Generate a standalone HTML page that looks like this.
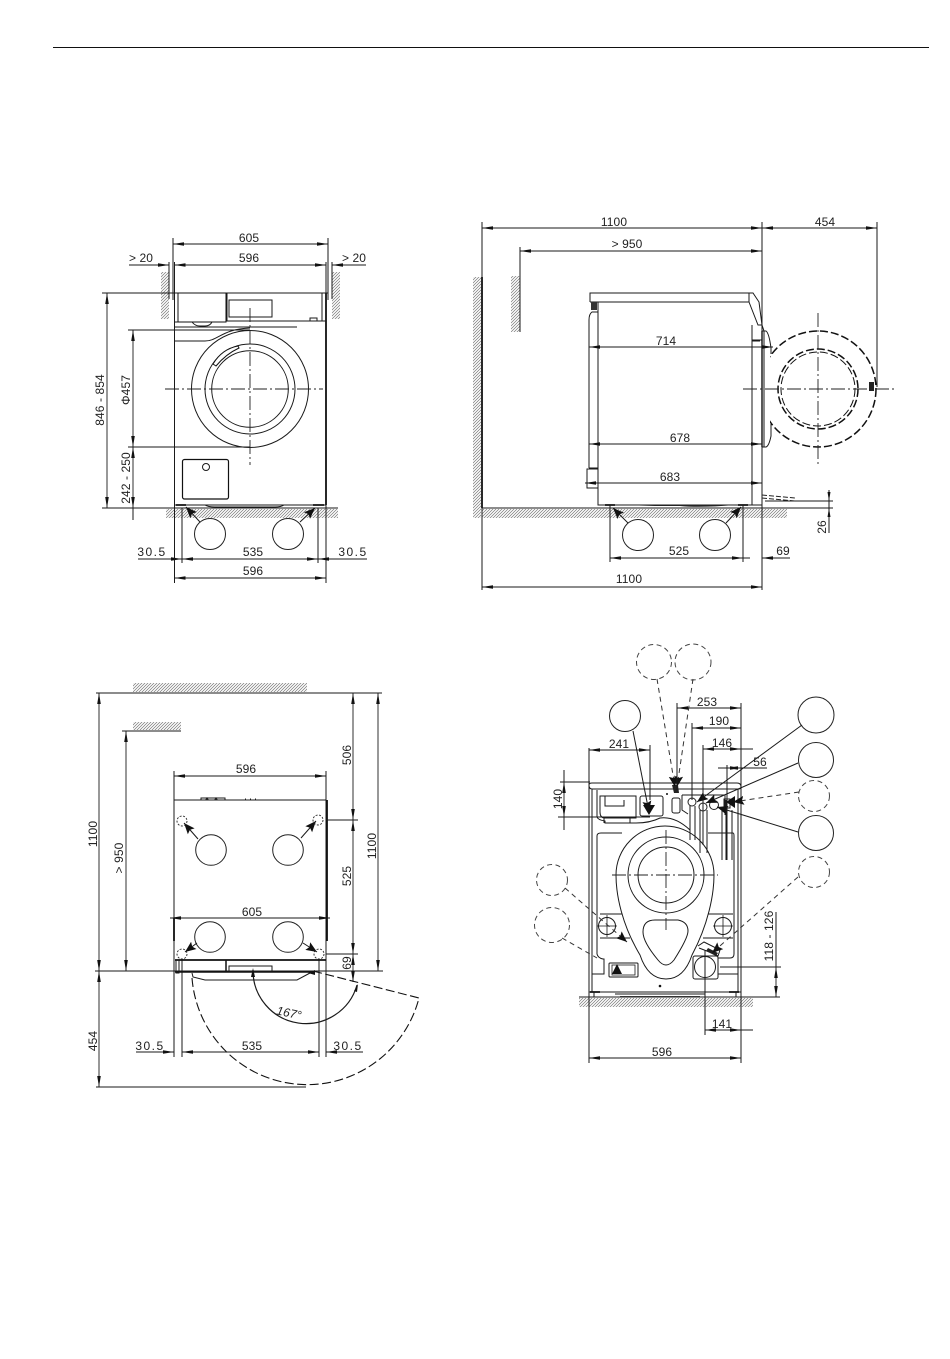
<!DOCTYPE html>
<html><head><meta charset="utf-8"><title>Installation dimensions</title>
<style>
html,body{margin:0;padding:0;background:#fff}
svg{display:block}
text{font-family:"Liberation Sans",sans-serif;font-size:12px;fill:#222;text-anchor:middle;dominant-baseline:central;letter-spacing:.1px}
.w{letter-spacing:1.5px}
.l{fill:none;stroke:#1a1a1a;stroke-width:1}
.t{fill:none;stroke:#1a1a1a;stroke-width:.8}
.b{fill:none;stroke:#111;stroke-width:1.8}
.d{fill:none;stroke:#1a1a1a;stroke-width:.9;marker-start:url(#a);marker-end:url(#a)}
.e{fill:none;stroke:#1a1a1a;stroke-width:.9;marker-end:url(#a)}
.p{fill:none;stroke:#1a1a1a;stroke-width:1;marker-end:url(#h)}
.q{fill:none;stroke:#333;stroke-width:1;stroke-dasharray:5 4;marker-end:url(#h)}
.n{fill:none;stroke:#333;stroke-width:1;stroke-dasharray:5 4}
.c{fill:none;stroke:#222;stroke-width:.9;stroke-dasharray:14 3 2 3}
.s{fill:#fff;stroke:#222;stroke-width:1}
.k{fill:#fff;stroke:#444;stroke-width:1;stroke-dasharray:5 3.5}
.dd{fill:none;stroke:#111;stroke-width:1.5;stroke-dasharray:8 3}
</style></head><body>
<svg width="950" height="1359" viewBox="0 0 950 1359" xmlns="http://www.w3.org/2000/svg">
<defs>
<marker id="a" markerUnits="userSpaceOnUse" markerWidth="13" markerHeight="7" refX="11" refY="3.5" orient="auto-start-reverse"><path d="M11,3.5 L0,1.7 L0,5.300 z" fill="#111"/></marker>
<marker id="h" markerUnits="userSpaceOnUse" markerWidth="13" markerHeight="10" refX="11" refY="5" orient="auto"><path d="M11,5 L0,0.5 L2,5 L0,9.5 z" fill="#111"/></marker>
<pattern id="x" width="3" height="3" patternUnits="userSpaceOnUse"><path d="M-1,1 L1,-1 M0,3 L3,0 M2,4 L4,2" stroke="#777" stroke-width=".7"/></pattern>
<clipPath id="cr"><rect x="770" y="320" width="120" height="140"/></clipPath>
</defs>
<line x1="53" y1="47.5" x2="929" y2="47.5" stroke="#111" stroke-width="1"/>

<!-- VIEW 1 FRONT -->
<rect x="161" y="272" width="8" height="47" fill="url(#x)"/><rect x="332" y="272" width="8" height="47" fill="url(#x)"/>
<rect x="166" y="509" width="172" height="9" fill="url(#x)"/>
<path class="l" d="M173 238V300M328 238V300M169 262V299M332 262V299M174.500 262V505M326 262V505"/>
<path class="b" d="M326 293V505"/>
<path class="l" d="M102 293H328M102 508H338"/>
<path class="l" d="M178 293V322H226V293M227 293V321H322V293M175 322H178M322 321H326M175 327H297"/>
<rect class="b" x="178" y="293" width="48" height="29" style="stroke-width:1"/>
<rect class="l" x="229" y="300" width="43" height="17"/>
<rect class="l" x="310" y="318" width="7" height="3"/>
<path class="l" d="M192 322q3 4 8 4h5q5 0 7-4"/>
<path class="l" d="M175 341H205C218 341 222 329 250 328"/>
<circle class="l" cx="250" cy="389" r="58.500"/><circle class="l" cx="250" cy="389" r="45"/><circle class="l" cx="250" cy="389" r="38.300"/>
<path d="M213 364Q222 349 238 346L239 348Q226 354 216 366Z" fill="#fff" stroke="#111"/>
<path class="c" d="M165 389H323M250 308V465"/>
<rect class="b" x="182.500" y="459.500" width="46" height="39.500" rx="2" style="stroke-width:1.200"/>
<circle class="l" cx="206" cy="467" r="3.500"/>
<path class="l" d="M175 505H326M205 505q3 2 10 2h60q6 0 9-2"/>
<path class="b" d="M176 505h10M313 505h11"/>
<circle class="s" cx="210" cy="534" r="15.500"/><circle class="s" cx="288" cy="534" r="15.500"/>
<path class="p" d="M200 522L186 507"/><path class="p" d="M300 522L315 508"/>
<line class="d" x1="173" y1="244" x2="328" y2="244"/><text x="249" y="238">605</text>
<line class="d" x1="174.500" y1="265" x2="326" y2="265"/><text x="249" y="258">596</text>
<line class="e" x1="129" y1="265" x2="169" y2="265"/><text x="141" y="258">&gt; 20</text>
<line class="e" x1="366" y1="265" x2="332" y2="265"/><text x="354" y="258">&gt; 20</text>
<line class="d" x1="107" y1="293" x2="107" y2="508"/>
<text transform="translate(100 400) rotate(-90)">846 - 854</text>
<line class="l" x1="128" y1="330" x2="250" y2="330"/><line class="l" x1="128" y1="447" x2="250" y2="447"/>
<line class="d" x1="133" y1="330" x2="133" y2="447"/>
<line class="d" x1="133" y1="447" x2="133" y2="508"/><line class="l" x1="133" y1="508" x2="133" y2="520"/>
<text transform="translate(126 390) rotate(-90)">Φ457</text>
<text transform="translate(126 478) rotate(-90)">242 - 250</text>
<path class="l" d="M174.500 505V583M326 505V583M182 508V563M318 508V563"/>
<line class="e" x1="138" y1="559" x2="182" y2="559"/>
<path class="l" d="M174 559h8"/><line class="e" x1="367" y1="559" x2="318" y2="559"/>
<line class="d" x1="182" y1="559" x2="318" y2="559"/>
<text class="w" x="152" y="552">30.5</text><text x="253" y="552">535</text><text class="w" x="353" y="552">30.5</text>
<line class="d" x1="174.500" y1="578" x2="326" y2="578"/><text x="253" y="571">596</text>

<!-- VIEW 2 SIDE -->
<rect x="473" y="277" width="8" height="241" fill="url(#x)"/><rect x="511" y="276" width="9" height="56" fill="url(#x)"/>
<rect x="482" y="509" width="305" height="9" fill="url(#x)"/>
<path class="l" d="M482 222V590M762 222V590M877 222V387M520 247V332"/>
<path class="b" d="M482 277V508"/>
<path class="l" d="M482 508H833M765 501H833"/>
<line class="d" x1="482" y1="228" x2="762" y2="228"/><text x="614" y="222">1100</text>
<line class="d" x1="762" y1="228" x2="877" y2="228"/><text x="825" y="222">454</text>
<line class="d" x1="520" y1="251" x2="762" y2="251"/><text x="627" y="244">&gt; 950</text>
<path class="l" d="M590 302V293H753L759 302L762 325L764 331V447"/>
<path class="l" d="M590 302H749V293M749 302L758 325H762M752 325V505M598 302V505H762M752 340H762M752 341H760"/>
<path class="l" d="M598 312H592Q589 314 589 320V468M589 468H598M587 469H598V488H587Z"/>
<rect x="591" y="302" width="6" height="8" fill="#333"/>
<path class="b" d="M762 331V447" style="stroke-width:1.400"/>
<path class="l" d="M762 331H766Q769 333 771 348V354M771 424V436Q769 446 766 447H762"/>
<g clip-path="url(#cr)"><circle class="dd" cx="818" cy="389" r="58"/><circle class="dd" cx="818" cy="389" r="40"/><circle class="dd" cx="818" cy="389" r="37" style="stroke-width:1"/></g>
<path class="c" d="M743 389H895M818 313V465"/>
<rect x="869" y="382" width="5" height="9" fill="#222"/>
<line class="d" x1="589" y1="347" x2="773" y2="347"/><text x="666" y="341">714</text>
<line class="d" x1="589" y1="444" x2="762" y2="444"/><text x="680" y="438">678</text>
<line class="d" x1="585" y1="483" x2="762" y2="483"/><text x="670" y="477">683</text>
<path d="M762 495L795 498M762 498L795 501" stroke="#222" stroke-width="1" stroke-dasharray="5 2" fill="none"/>
<path class="b" d="M605 505h10M738 505h10"/>
<path d="M625 505H735Q700 508 680 506H655Z" fill="#222"/>
<path class="l" d="M610 505V562M743 505V562M829 490V533"/>
<path d="M829 501l-1.500-9h3zM829 508l-1.500 9h3z" fill="#111"/>
<text transform="translate(822 527) rotate(-90)">26</text>
<circle class="s" cx="638" cy="535" r="15.500"/><circle class="s" cx="715" cy="535" r="15.500"/>
<path class="p" d="M628 523L613 508"/><path class="p" d="M726 523L741 507"/>
<line class="d" x1="610" y1="558" x2="743" y2="558"/><text x="679" y="551">525</text>
<line class="e" x1="790" y1="558" x2="762" y2="558"/><line class="l" x1="750" y1="558" x2="743" y2="558"/>
<text x="783" y="551">69</text>
<line class="d" x1="482" y1="587" x2="762" y2="587"/><text x="629" y="579">1100</text>

<!-- VIEW 3 TOP -->
<rect x="133" y="683" width="174" height="9" fill="url(#x)"/><rect x="133" y="722" width="48" height="8" fill="url(#x)"/>
<path class="l" d="M96 693H382M122 731H181M95 971H383M96 1087H306"/>
<line class="d" x1="99" y1="693" x2="99" y2="971"/><text transform="translate(93 834) rotate(-90)">1100</text>
<line class="d" x1="99" y1="971" x2="99" y2="1087"/><text transform="translate(93 1041) rotate(-90)">454</text>
<line class="d" x1="126" y1="731" x2="126" y2="971"/><text transform="translate(119 858) rotate(-90)">&gt; 950</text>
<line class="d" x1="174" y1="776" x2="326" y2="776"/><text x="246" y="769">596</text>
<path class="l" d="M174 771V1057M326 771V1057M182 960V1057M319 960V1057"/>
<path class="l" d="M174 800H326M201 800v-2h24v2M245 799h1M250 799h1M255 799h1"/>
<path d="M205 800l2-3 2 3zM214 800l2-3 2 3z" fill="#222"/>
<path class="b" d="M327 800V941M174 918V941M175 960H326"/>
<path class="b" d="M226 960V971M175 972H313" style="stroke-width:1.500"/>
<path class="l" d="M176 960V973H179V960M229 966H272V971H229Z"/>
<path class="l" d="M192 973L193 977L205 980H297L310 973"/>
<line class="d" x1="170" y1="918" x2="330" y2="918"/><text x="252" y="912">605</text>
<circle class="s" cx="211" cy="850" r="15.300"/><circle class="s" cx="288" cy="850" r="15.300"/><circle class="s" cx="210" cy="937" r="15.300"/><circle class="s" cx="288" cy="937" r="15.300"/>
<path class="p" d="M198 839L184 823"/><path class="p" d="M301 838L316 821"/><path class="p" d="M197 943L185 952"/><path class="p" d="M303 943L317 952"/>
<g fill="none" stroke="#222" stroke-width=".9" stroke-dasharray="2 1.500"><circle cx="182" cy="821" r="5"/><circle cx="318" cy="820" r="5"/><circle cx="182" cy="954" r="5"/><circle cx="319" cy="954" r="5"/></g>
<path class="l" d="M326 820H358M326 954H358"/>
<line class="d" x1="353" y1="693" x2="353" y2="820"/><text transform="translate(347 755) rotate(-90)">506</text>
<line class="d" x1="353" y1="820" x2="353" y2="954"/><text transform="translate(347 876) rotate(-90)">525</text>
<line class="d" x1="353" y1="954" x2="353" y2="982"/><text transform="translate(347 963) rotate(-90)">69</text>
<line class="d" x1="378" y1="693" x2="378" y2="971"/><text transform="translate(372 846) rotate(-90)">1100</text>
<path fill="none" stroke="#111" stroke-width="1.100" stroke-dasharray="9 3.500" d="M192 978A115.500 115.500 0 0 0 419 998L313 971"/>
<path class="l" style="stroke-width:1.200" d="M253 970A53 53 0 0 0 357 985"/>
<path d="M253 968l-2 9h4zM358 984l-4 7 3 1zM308 973l7-3v5z" fill="#111"/>
<text transform="translate(289 1013) rotate(12)" style="font-style:italic">167°</text>
<line class="e" x1="136" y1="1052" x2="174" y2="1052"/><line class="d" x1="182" y1="1052" x2="319" y2="1052"/><line class="e" x1="363" y1="1052" x2="326" y2="1052"/>
<text class="w" x="150" y="1046">30.5</text><text x="252" y="1046">535</text><text class="w" x="348" y="1046">30.5</text>

<!-- VIEW 4 REAR -->
<rect x="579" y="998" width="174" height="9" fill="url(#x)"/>
<path class="l" d="M589 748V1063M741 703V1063"/>
<path class="l" d="M579 997H780M560 782H590M558 817H650M720 967H781"/>
<path class="l" d="M592 783H737Q741 783 741 787Q741 789 738 789H592Q589 789 589 785Q589 783 592 783ZM592 789V992M738 789V992M589 992H741"/>
<path class="l" d="M597 790V817Q598 820 605 821L605 823H636Q650 823 660 818Q675 816 690 830"/>
<path class="l" d="M600 796H636V818H605Q600 818 600 812ZM605 796V806H624V800M604 823V817M630 818V823"/>
<rect class="l" x="640" y="796" width="23" height="20" rx="2"/>
<path class="l" d="M597 836Q597 833 601 833H622M708 833H733Q734 833 734 836V954Q734 958 730 958H718M597 836V954Q598 958 603 959H604V974H592"/>
<path class="l" d="M600 914H628M600 938H630M703 914H733M703 938H733M718 974H738"/>
<path d="M616 875C616 895 622 925 640 955Q648 979 666 979Q684 979 692 955C708 925 714 895 714 875A49 49 0 0 0 616 875Z" fill="#fff" stroke="#1a1a1a"/>
<circle class="l" cx="666" cy="875" r="38"/><circle class="l" cx="666" cy="875" r="28"/>
<path class="l" d="M643 932Q643 920 655 920H678Q688 922 688 931Q688 938 674 960Q666 970 658 960Q643 942 643 932Z"/>
<path class="c" d="M612 875H718M666 830V930"/>
<circle class="l" cx="607" cy="926" r="8.500"/><circle class="l" cx="723" cy="926" r="8.500"/>
<path class="t" d="M597 926H617M607 915V937M713 926H733M723 915V937"/>
<rect class="l" x="609" y="963" width="29" height="14" rx="1"/><rect class="t" x="612" y="965" width="23" height="10"/>
<path d="M612 974L617 964L622 974Z" fill="#111"/>
<rect class="l" x="693" y="956" width="25" height="23" rx="2"/><circle class="l" cx="705" cy="967" r="10.500"/>
<path class="l" d="M698 946L704 942L720 950L718 956L712 953L699 948"/>
<path d="M708 948l10 5-2 3-10-5z" fill="#222"/>
<circle cx="660" cy="986" r="1.300" fill="#111"/><circle cx="667" cy="794" r="1" fill="#111"/>
<path class="b" d="M590 992h10M729 992h10"/>
<path class="l" d="M594 992V997M736 992V997M615 994H705"/><path d="M620 996H700V997H620Z" fill="#333"/>
<rect class="l" x="672" y="798" width="8" height="15" rx="2"/><path d="M672 785L678 785 679 793 674 793z" fill="#222"/>
<path class="l" d="M682 795H725V815M682 795V810L688 814M690 803V840M695 806V840M700 810V853M707 810V853M722 810V860M732 810V860M726 800V860"/>
<rect class="l" x="724" y="799" width="6" height="9"/>
<circle class="s" cx="692" cy="802" r="4"/><circle class="s" cx="703" cy="807" r="4"/><circle class="s" cx="714" cy="805" r="4.500"/>
<circle class="k" cx="654" cy="662" r="17.500"/><circle class="k" cx="693" cy="662" r="18"/>
<circle class="s" cx="625" cy="716" r="15.500"/><circle class="s" cx="816" cy="715" r="18"/><circle class="s" cx="816" cy="760" r="17.500"/><circle class="k" cx="814" cy="796" r="15.500"/><circle class="s" cx="816" cy="833" r="17.500"/><circle class="k" cx="814" cy="872" r="15.500"/><circle class="k" cx="552" cy="880" r="15.500"/><circle class="k" cx="552" cy="925" r="17.500"/>
<path class="q" d="M657 679L675 787"/><path class="q" d="M693 679L677 787"/><path class="q" d="M799 792L733 802"/><path class="q" d="M798 877L712 953"/><path class="q" d="M565 888L627 942"/><path class="n" d="M562 938L597 958"/>
<path class="p" d="M633 731L649 812"/><path class="p" d="M802 725L697 802"/><path class="p" d="M798 763L706 803"/><path class="p" d="M798 832L717 807"/>
<path d="M643 805h12l-6 10zM735 796v12l-9-6z" fill="#111"/>
<line class="l" x1="677" y1="703" x2="677" y2="790"/><line class="l" x1="692" y1="723" x2="692" y2="800"/><line class="l" x1="703" y1="745" x2="703" y2="845"/><line class="l" x1="727" y1="765" x2="727" y2="860"/><line class="l" x1="650" y1="745" x2="650" y2="800"/><line class="l" x1="705" y1="950" x2="705" y2="1035"/>
<line class="d" x1="677" y1="708" x2="741" y2="708"/><text x="707" y="702">253</text>
<line class="d" x1="692" y1="728" x2="741" y2="728"/><text x="719" y="721">190</text>
<line class="d" x1="703" y1="749" x2="741" y2="749"/><line class="l" x1="741" y1="749" x2="753" y2="749"/><text x="722" y="743">146</text>
<line class="l" x1="718" y1="768" x2="727" y2="768"/><line class="d" x1="727" y1="768" x2="741" y2="768"/><line class="l" x1="741" y1="768" x2="767" y2="768"/><text x="760" y="762">56</text>
<line class="d" x1="589" y1="750" x2="650" y2="750"/><text x="619" y="744">241</text>
<line class="d" x1="564" y1="782" x2="564" y2="817"/><path class="l" d="M564 770V782M564 817V830"/><text transform="translate(558 799) rotate(-90)">140</text>
<line class="d" x1="776" y1="967" x2="776" y2="997"/><line class="l" x1="776" y1="912" x2="776" y2="967"/><text transform="translate(769 936) rotate(-90)">118 - 126</text>
<line class="d" x1="705" y1="1030" x2="741" y2="1030"/><line class="l" x1="741" y1="1030" x2="753" y2="1030"/><text x="722" y="1024">141</text>
<line class="d" x1="589" y1="1058" x2="741" y2="1058"/><text x="662" y="1052">596</text>
</svg>
</body></html>
